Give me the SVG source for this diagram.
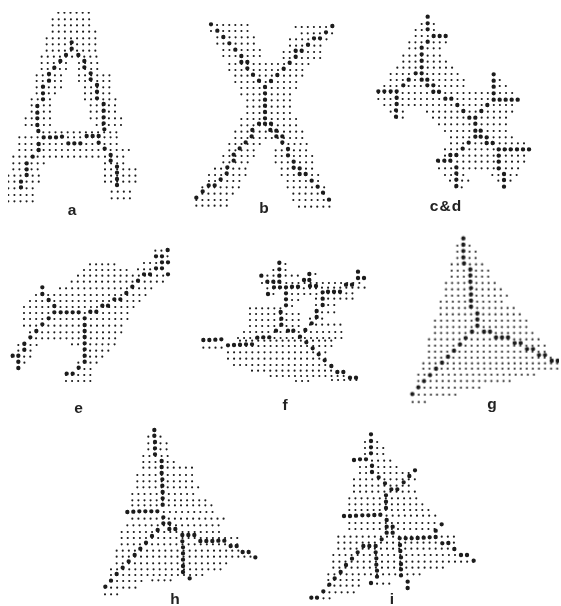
<svg xmlns="http://www.w3.org/2000/svg" width="561" height="606" viewBox="0 0 561 606">
<style>
path{fill:none;stroke:#1a1a1a;stroke-linecap:round}
.s{stroke-width:6.4;stroke-dasharray:0 18.25}
.b{stroke-width:13}
text{font-family:"Liberation Sans",Arial,sans-serif;font-size:15.5px;font-weight:700;fill:#222;text-anchor:middle}
</style>
<defs><filter id="soft" x="0" y="0" width="100%" height="100%"><feGaussianBlur stdDeviation="0.3"/></filter></defs>
<rect width="561" height="606" fill="#fff"/>
<g filter="url(#soft)">
<g id="panel-a" transform="scale(.33333)">
<path class="s" d="M175 38H270M158 58H270M158 76H270M158 95H290M140 115H290M140 133H290M140 152H290M125 170H307M125 189H202M237 189H309M125 207H202M237 207H309M110 226H184M237 226H329M110 243H184M237 243H329M110 262H184M255 262H329M110 280H167M255 280H329M95 298H167M255 298H347M95 316H167M272 316H347M95 335H167M272 335H347M77 355H152M272 355H367M77 375H152M290 375H367M130 397H367M58 412H367M58 432H367M58 450H387M40 470H307M315 470H387M40 490H137M315 490H387M40 508H122M315 508H407M25 527H122M315 527H407M25 545H122M315 545H407M25 565H107M335 575H407M25 585H107M335 595H407M25 604H107"/>
<path class="b" d="M215 127h0M215 146h0M198 165h0M235 165h0M181 183h0M253 183h0M253 202h0M163 203h0M147 222h0M147 242h0M272 220h0M272 238h0M129 260h0M129 280h0M129 298h0M291 255h0M291 275h0M291 295h0M112 318h0M112 338h0M112 355h0M112 375h0M115 393h0M311 312h0M311 332h0M311 352h0M311 370h0M313 388h0M131 412h0M150 412h0M168 412h0M186 410h0M260 408h0M278 408h0M296 408h0M205 430h0M223 430h0M241 430h0M116 432h0M116 450h0M296 428h0M314 446h0M98 470h0M332 465h0M332 482h0M80 490h0M80 508h0M80 525h0M351 500h0M351 518h0M351 537h0M351 555h0M63 545h0M63 562h0"/>
</g>
<g id="panel-b" transform="translate(185 5) scale(.33333)">
<path class="s" d="M78 60H189M332 66H444M78 78H189M350 85H444M97 97H207M315 103H425M97 116H207M315 122H407M115 135H225M296 141H407M115 153H225M296 159H407M133 177H388M133 195H370M151 212H352M151 231H334M169 249H334M169 268H316M187 286H316M187 305H316M187 324H316M169 342H334M169 361H334M151 380H352M151 399H352M133 417H242M292 417H370M133 436H222M272 436H370M115 453H222M272 453H388M115 472H202M272 472H388M90 491H185M290 491H388M72 510H185M290 510H407M72 528H167M308 528H407M52 547H167M308 547H425M52 566H149M325 566H425M34 585H130M325 585H444M34 602H130M342 605H444"/>
<path class="b" d="M78 58h0M97 77h0M115 96h0M133 115h0M151 134h0M169 153h0M169 171h0M187 171h0M187 190h0M204 209h0M222 227h0M240 246h0M240 265h0M240 284h0M240 302h0M240 321h0M240 340h0M222 356h0M240 356h0M258 356h0M202 375h0M256 375h0M274 377h0M200 394h0M274 394h0M292 394h0M182 412h0M292 412h0M164 430h0M309 432h0M309 451h0M146 449h0M146 467h0M326 470h0M326 488h0M344 490h0M127 487h0M125 505h0M344 507h0M362 507h0M107 523h0M380 527h0M71 541h0M89 541h0M398 545h0M53 559h0M414 563h0M34 578h0M432 584h0M442 63h0M423 82h0M405 100h0M387 100h0M369 119h0M350 137h0M332 137h0M332 155h0M314 173h0M296 191h0M277 210h0M258 228h0"/>
</g>
<g id="panel-c-d" transform="translate(365 5) scale(.33333)">
<path class="s" d="M170 57H208M152 75H208M152 93H244M133 112H244M133 130H226M115 152H226M115 170H244M97 188H262M77 207H280M77 225H298M386 225H406M58 243H298M386 243H424M40 264H442M40 282H478M58 300H442M77 320H114M186 320H442M95 338H114M204 338H424M222 358H424M240 378H424M258 397H442M258 415H478M240 433H497M240 452H478M222 470H478M222 490H460M240 510H312M382 510H460M255 527H312M400 527H442M272 547H292"/>
<path class="b" d="M188 35h0M188 55h0M188 73h0M188 110h0M206 93h0M224 93h0M242 93h0M170 128h0M170 148h0M170 167h0M170 187h0M152 205h0M170 205h0M131 224h0M170 224h0M187 224h0M187 241h0M205 241h0M115 241h0M40 259h0M58 259h0M77 259h0M95 259h0M205 260h0M222 260h0M95 278h0M95 297h0M93 316h0M93 335h0M241 281h0M259 281h0M277 300h0M295 318h0M313 338h0M331 338h0M349 318h0M367 300h0M386 208h0M386 227h0M386 245h0M386 265h0M386 284h0M404 284h0M422 284h0M440 284h0M458 284h0M331 356h0M331 377h0M347 377h0M331 395h0M347 395h0M365 397h0M311 413h0M365 414h0M383 414h0M293 431h0M401 433h0M419 433h0M437 433h0M456 433h0M474 433h0M492 433h0M401 452h0M401 470h0M401 490h0M256 450h0M274 450h0M219 467h0M238 467h0M256 467h0M274 487h0M274 505h0M274 524h0M274 543h0M417 507h0M417 525h0M417 545h0"/>
</g>
<g id="panel-e" transform="translate(0 235) scale(.33333)">
<path class="s" d="M466 47H505M466 64H505M432 84H505M270 88H344M252 105H380M414 103H487M234 122H505M215 140H490M180 160H470M108 180H454M90 198H436M72 216H417M72 234H399M72 252H399M72 272H382M90 292H382M90 310H362M55 330H128M216 328H344M55 347H92M252 347H326M36 365H92M252 365H307M55 383H74M235 383H290M235 402H272M198 420H272M198 438H272"/>
<path class="b" d="M503 45h0M468 64h0M486 64h0M486 82h0M504 82h0M468 100h0M486 100h0M450 118h0M432 118h0M504 118h0M414 137h0M397 155h0M379 174h0M361 193h0M343 193h0M324 212h0M307 212h0M289 230h0M271 230h0M127 157h0M127 177h0M146 195h0M163 213h0M163 232h0M182 232h0M200 232h0M218 232h0M236 232h0M146 250h0M127 268h0M109 288h0M91 307h0M73 326h0M73 344h0M55 362h0M38 362h0M55 380h0M55 399h0M254 250h0M254 270h0M254 288h0M254 306h0M254 325h0M254 343h0M254 362h0M254 380h0M236 398h0M200 416h0M218 416h0"/>
</g>
<g id="panel-f" transform="translate(190 250) scale(.33333)">
<path class="s" d="M268 42H288M250 60H288M214 77H324M358 72H378M216 99H524M232 115H380M396 113H524M232 132H252M288 132H380M396 130H488M288 150H326M378 146H488M288 168H308M378 165H434M180 175H272M180 192H342M378 187H434M180 210H344M360 206H398M180 228H344M360 224H458M162 246H458M144 264H458M150 272H440M40 293H96M114 288H440M114 307H422M114 326H422M132 345H427M186 362H427M242 378H462M318 393H357M426 390H500"/>
<path class="b" d="M268 38h0M268 58h0M268 77h0M214 77h0M232 95h0M250 95h0M268 95h0M358 72h0M342 90h0M358 90h0M504 65h0M504 84h0M522 84h0M252 112h0M270 112h0M288 112h0M306 110h0M324 110h0M360 108h0M378 108h0M468 104h0M486 104h0M234 132h0M288 130h0M288 148h0M288 166h0M398 127h0M414 125h0M432 125h0M450 125h0M398 146h0M398 165h0M380 183h0M380 201h0M272 186h0M274 206h0M274 224h0M365 220h0M258 242h0M294 242h0M310 242h0M346 240h0M202 263h0M220 262h0M238 262h0M330 260h0M349 277h0M40 270h0M58 270h0M76 269h0M94 268h0M114 286h0M132 285h0M150 284h0M168 283h0M186 283h0M368 295h0M386 313h0M404 331h0M424 348h0M442 366h0M460 366h0M480 383h0M498 383h0"/>
</g>
<g id="panel-g" transform="translate(400 230) scale(.33333)">
<path class="s" d="M172 47H212M172 65H230M172 84H230M155 103H248M155 122H267M155 140H267M138 159H285M138 178H304M138 197H322M122 215H322M122 234H342M122 253H360M105 272H382M105 291H382M105 309H400M87 328H418M87 347H437M87 365H437M87 383H457M70 400H477M70 416H477M55 434H404M55 453H332M55 473H242M38 494H167M38 516H77"/>
<path class="b" d="M190 25h0M190 44h0M190 63h0M190 82h0M192 100h0M211 118h0M211 136h0M211 155h0M213 174h0M213 193h0M213 212h0M213 230h0M232 250h0M232 268h0M232 287h0M216 305h0M197 324h0M180 343h0M162 362h0M144 380h0M126 398h0M108 416h0M90 435h0M72 453h0M55 472h0M37 492h0M252 305h0M270 305h0M288 322h0M306 322h0M324 322h0M344 339h0M362 339h0M381 357h0M399 357h0M417 375h0M435 375h0M455 392h0M473 392h0"/>
</g>
<g id="panel-h" transform="translate(95 420) scale(.33333)">
<path class="s" d="M160 50H198M160 70H216M160 88H216M145 108H236M145 126H254M145 143H292M127 165H292M127 184H292M127 202H312M112 222H312M112 241H332M112 256H350M97 276H367M112 296H387M97 316H387M80 336H387M80 354H427M80 373H427M65 392H447M65 410H482M65 430H407M48 448H392M48 465H322M48 483H142M172 481H232M30 503H124M30 523H68"/>
<path class="b" d="M178 30h0M178 47h0M180 66h0M180 85h0M180 103h0M200 123h0M200 141h0M200 159h0M202 178h0M202 197h0M203 216h0M203 235h0M203 254h0M97 276h0M115 275h0M133 274h0M151 274h0M169 274h0M187 274h0M205 292h0M205 310h0M223 310h0M223 327h0M241 327h0M188 330h0M171 348h0M153 368h0M136 386h0M119 405h0M101 424h0M83 443h0M65 462h0M48 482h0M31 500h0M262 345h0M280 345h0M298 345h0M262 364h0M316 363h0M334 363h0M352 363h0M370 362h0M388 362h0M407 378h0M425 378h0M443 396h0M461 396h0M481 412h0M264 382h0M264 400h0M264 419h0M264 438h0M264 456h0M284 475h0"/>
</g>
<g id="panel-i" transform="translate(300 420) scale(.33333)">
<path class="s" d="M195 66H234M195 84H252M195 102H252M216 122H272M180 141H292M180 159H330M162 178H347M162 197H330M162 215H350M148 235H350M148 253H370M148 270H390M132 287H407M148 309H407M148 327H407M115 350H467M115 368H467M115 386H467M100 405H502M100 425H522M100 443H432M85 463H362M85 480H182M85 497H182M213 491H270M70 517H164M34 535H107"/>
<path class="b" d="M213 43h0M213 63h0M213 82h0M213 100h0M198 118h0M180 118h0M162 120h0M216 137h0M216 156h0M345 151h0M328 168h0M311 187h0M236 172h0M255 190h0M274 208h0M292 208h0M258 226h0M258 245h0M258 264h0M132 288h0M150 288h0M168 287h0M187 286h0M205 286h0M223 285h0M241 284h0M260 300h0M260 320h0M278 320h0M260 338h0M278 338h0M425 313h0M407 332h0M407 351h0M389 352h0M371 353h0M353 354h0M335 355h0M317 355h0M299 355h0M245 358h0M227 378h0M208 378h0M190 378h0M173 397h0M156 416h0M138 435h0M122 456h0M104 475h0M88 494h0M70 514h0M51 533h0M34 533h0M227 397h0M229 415h0M229 434h0M231 452h0M231 470h0M213 489h0M300 375h0M301 393h0M303 412h0M303 432h0M303 448h0M303 466h0M323 485h0M323 504h0M427 370h0M445 369h0M463 387h0M483 405h0M501 405h0M521 422h0"/>
</g>
<g id="labels">
<text x="72" y="215">a</text>
<text x="264" y="213">b</text>
<text x="446" y="211" letter-spacing="1">c&amp;d</text>
<text x="78.5" y="413">e</text>
<text x="285" y="410">f</text>
<text x="492" y="409">g</text>
<text x="175" y="604">h</text>
<text x="392" y="604">i</text>
</g>
</g>
</svg>
